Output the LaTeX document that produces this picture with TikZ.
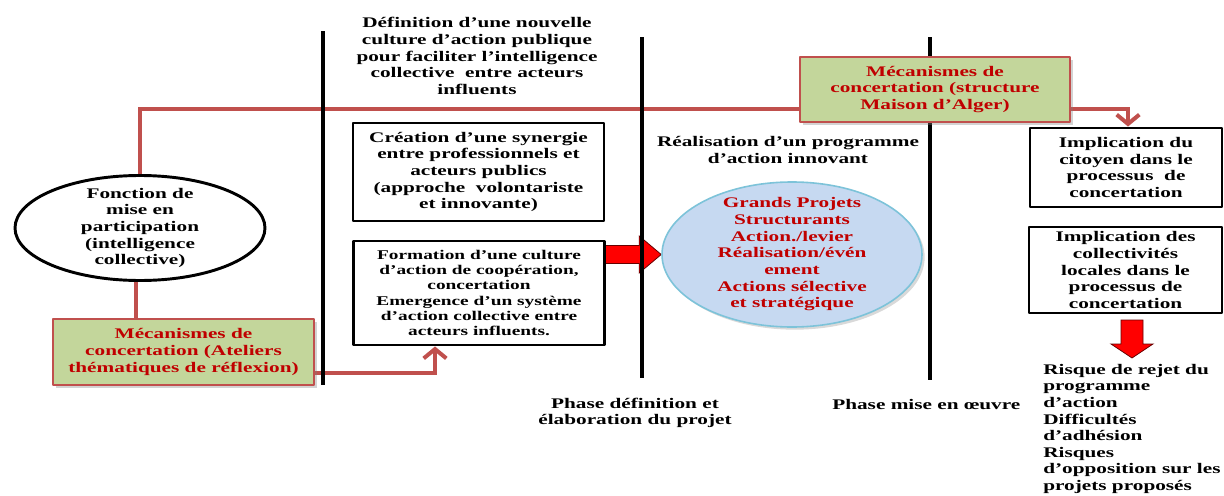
\documentclass[tikz,border=0pt]{standalone}
\usepackage{fontspec}
\setmainfont{Liberation Serif}[FakeStretch=1.45]
\usetikzlibrary{shapes.geometric,arrows.meta,shadows}
\pgfdeclarelayer{fond}
\pgfsetlayers{fond,main}
\definecolor{rouge}{HTML}{C0504D}
\definecolor{vert}{HTML}{C3D69B}
\definecolor{grenat}{HTML}{C00000}
\definecolor{bleu}{HTML}{C6D9F1}
\definecolor{bleubord}{HTML}{7DC3D9}
\begin{document}
\begin{tikzpicture}[x=0.75pt,y=-0.75pt,font=\fontsize{11}{12.5}\selectfont\bfseries,line join=round,
  boite/.style={draw,line width=2.2pt,fill=white,align=center,inner sep=0pt},
  meca/.style={draw=rouge,line width=2.2pt,fill=vert,text=grenat,align=center,inner sep=0pt,
    drop shadow={opacity=0.35,shadow xshift=2pt,shadow yshift=-2pt}},
  lien/.style={rouge,line width=3pt},
  pointe/.style={-{Straight Barb[length=7pt,width=17pt]}},
  phase/.style={line width=2.6pt},
  fleche/.style={draw=black!60!red,line width=0.6pt,fill=red}]
\def\u{0.75pt}
\useasboundingbox (0,0) rectangle (1224,496);
% phases
\draw[phase] (323,31) -- (323,385);
\draw[phase] (642,37) -- (642,378);
\draw[phase] (930,37) -- (930,380);
% noeuds
\node[ellipse,draw,line width=2.2pt,fill=white,minimum width=250*\u,minimum height=105*\u,inner sep=0pt] (fonction) at (140,228) {};
\node[align=center] (fonctionT) at (fonction) {Fonction de\\mise en\\participation\\(intelligence\\collective)};
\node[meca,minimum width=261*\u,minimum height=66*\u] (mecaA) at (183.5,352) {Mécanismes de\\concertation (Ateliers\\thématiques de réflexion)};
\node[meca,minimum width=270*\u,minimum height=65*\u] (mecaB) at (935,89.5) {Mécanismes de\\concertation (structure\\Maison d’Alger)};
\node[boite,minimum width=192*\u,minimum height=79*\u] (citoyen) at (1126,167.5) {Implication du\\citoyen dans le\\processus\ \ de\\concertation};
\node[boite,minimum width=193*\u,minimum height=86*\u] (collectivites) at (1125.5,270) {Implication des\\collectivités\\locales dans le\\processus de\\concertation};
\node[boite,minimum width=251*\u,minimum height=98*\u] (creation) at (478.5,172) {Création d’une synergie\\entre professionnels et\\acteurs publics\\(approche\ \ volontariste\\et innovante)};
\node[boite,minimum width=251*\u,minimum height=104*\u,font=\fontsize{10}{11.4}\selectfont\bfseries] (formation) at (479,293) {Formation d’une culture\\d’action de coopération,\\concertation\\Emergence d’un système\\d’action collective entre\\acteurs influents.};
\node[ellipse,draw=bleubord,line width=1.2pt,fill=bleu,minimum width=260*\u,minimum height=145*\u,inner sep=0pt,
  drop shadow={opacity=0.3,shadow xshift=2pt,shadow yshift=-2pt}] (grands) at (792,254.5) {};
\node[text=grenat,align=center] (grandsT) at (grands) {Grands Projets\\Structurants\\Action./levier\\Réalisation/évén\\ement\\Actions sélective\\et stratégique};
% liens rouges et fleches
\begin{pgfonlayer}{fond}
\draw[lien] (fonction.north) |- ([yshift=10.5pt]mecaB.south west);
\draw[lien,pointe] ([yshift=10.5pt]mecaB.south east) -| ([xshift=1.5pt]citoyen.north);
\draw[lien] ([xshift=-3pt]fonction.south) -- ([xshift=-3pt]fonction.south |- mecaA.north);
\draw[lien,pointe] ([yshift=9.75pt]mecaA.south east) -| ([xshift=-33pt]formation.south);
\filldraw[fleche] (grands.west) -- ++(-22,-18.5) -- ++(0,9.5) -- ++(-37,0) -- ++(0,18) -- ++(37,0) -- ++(0,9.5) -- cycle;
\coordinate (pointeBas) at (1132,358);
\filldraw[fleche] (pointeBas) -- ++(-21,-14) -- ++(10,0) -- ++(0,-24) -- ++(22,0) -- ++(0,24) -- ++(10,0) -- cycle;
\end{pgfonlayer}
% textes
\node[align=center] (definition) at (477,56) {Définition d’une nouvelle\\culture d’action publique\\pour faciliter l’intelligence\\collective\ \ entre acteurs\\influents};
\node[align=center] (realisation) at (788,150) {Réalisation d’un programme\\d’action innovant};
\node[align=center] (phaseA) at (635,413) {Phase définition et\\élaboration du projet};
\node[anchor=west,inner sep=0pt] (phaseB) at (832,404) {Phase mise en œuvre};
\node[anchor=north west,align=left,inner sep=0pt,font=\fontsize{11}{12.4}\selectfont\bfseries] (risque) at (1043,364) {Risque de rejet du\\programme\\d’action\\Difficultés\\d’adhésion\\Risques\\d’opposition sur les\\projets proposés};
\end{tikzpicture}
\end{document}
